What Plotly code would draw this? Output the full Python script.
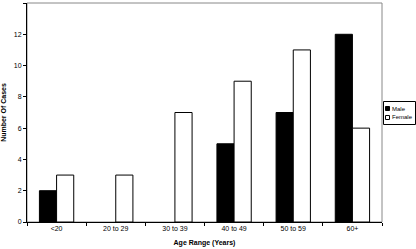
import plotly.graph_objects as go

categories = ["<20", "20 to 29", "30 to 39", "40 to 49", "50 to 59", "60+"]
male = [2, 0, 0, 5, 7, 12]
female = [3, 3, 7, 9, 11, 6]
y_ticks = [0, 2, 4, 6, 8, 10, 12, 14]
series_names = ["Male", "Female"]

fig = go.Figure()
fig.add_bar(x=categories, y=male, name=series_names[0],
            marker=dict(color="black",
                        line=dict(color="black", width=[1 if v else 0 for v in male])))
fig.add_bar(x=categories, y=female, name=series_names[1],
            marker=dict(color="white",
                        line=dict(color="black", width=[1 if v else 0 for v in female])))

font = "Liberation Sans, Arial, sans-serif"

# manual legend (pixel -> paper)
def px(x):
    return (x - 27) / 355
def py(y):
    return (222 - y) / 219

shapes = [
    dict(type="rect", xref="paper", yref="paper", x0=0, y0=0, x1=1, y1=1,
         line=dict(color="#888888", width=1), layer="below"),
    dict(type="rect", xref="paper", yref="paper", x0=px(383.5), x1=px(415.5),
         y0=py(124.5), y1=py(101.5), line=dict(color="black", width=1), fillcolor="white"),
    dict(type="rect", xref="paper", yref="paper", x0=px(385.5), x1=px(389.5),
         y0=py(110.5), y1=py(106.5), line=dict(color="black", width=1), fillcolor="black"),
    dict(type="rect", xref="paper", yref="paper", x0=px(385.5), x1=px(389.5),
         y0=py(119.5), y1=py(115.5), line=dict(color="black", width=1), fillcolor="white"),
]
annotations = [
    dict(xref="paper", yref="paper", x=px(390), y=py(108.5), text=series_names[0],
         showarrow=False, xanchor="left", yanchor="middle", font=dict(size=6)),
    dict(xref="paper", yref="paper", x=px(390), y=py(117.5), text=series_names[1],
         showarrow=False, xanchor="left", yanchor="middle", font=dict(size=6)),
]

fig.update_layout(
    width=416, height=249,
    margin=dict(l=27, r=34, t=3, b=27, autoexpand=False),
    paper_bgcolor="white", plot_bgcolor="white",
    barmode="group", bargap=0.42, bargroupgap=0,
    font=dict(family=font, size=7, color="black"),
    showlegend=False,
    shapes=shapes, annotations=annotations,
)
fig.update_xaxes(showline=True, linecolor="black", linewidth=1, ticks="outside",
                 tickson="boundaries", ticklen=3, tickcolor="black",
                 tickfont=dict(size=7), automargin=False,
                 title=dict(text="<b>Age Range (Years)</b>", font=dict(size=7), standoff=8))
fig.update_yaxes(range=[0, 14], tickvals=y_ticks, showline=True, linecolor="black",
                 linewidth=1, ticks="outside", ticklen=3, tickcolor="black",
                 showgrid=False, zeroline=False, tickfont=dict(size=7), automargin=False,
                 title=dict(text="<b>Number Of Cases</b>", font=dict(size=7), standoff=6))

fig.write_html("out.html", config={"displayModeBar": False},
               post_script="document.body.style.margin='0';")
